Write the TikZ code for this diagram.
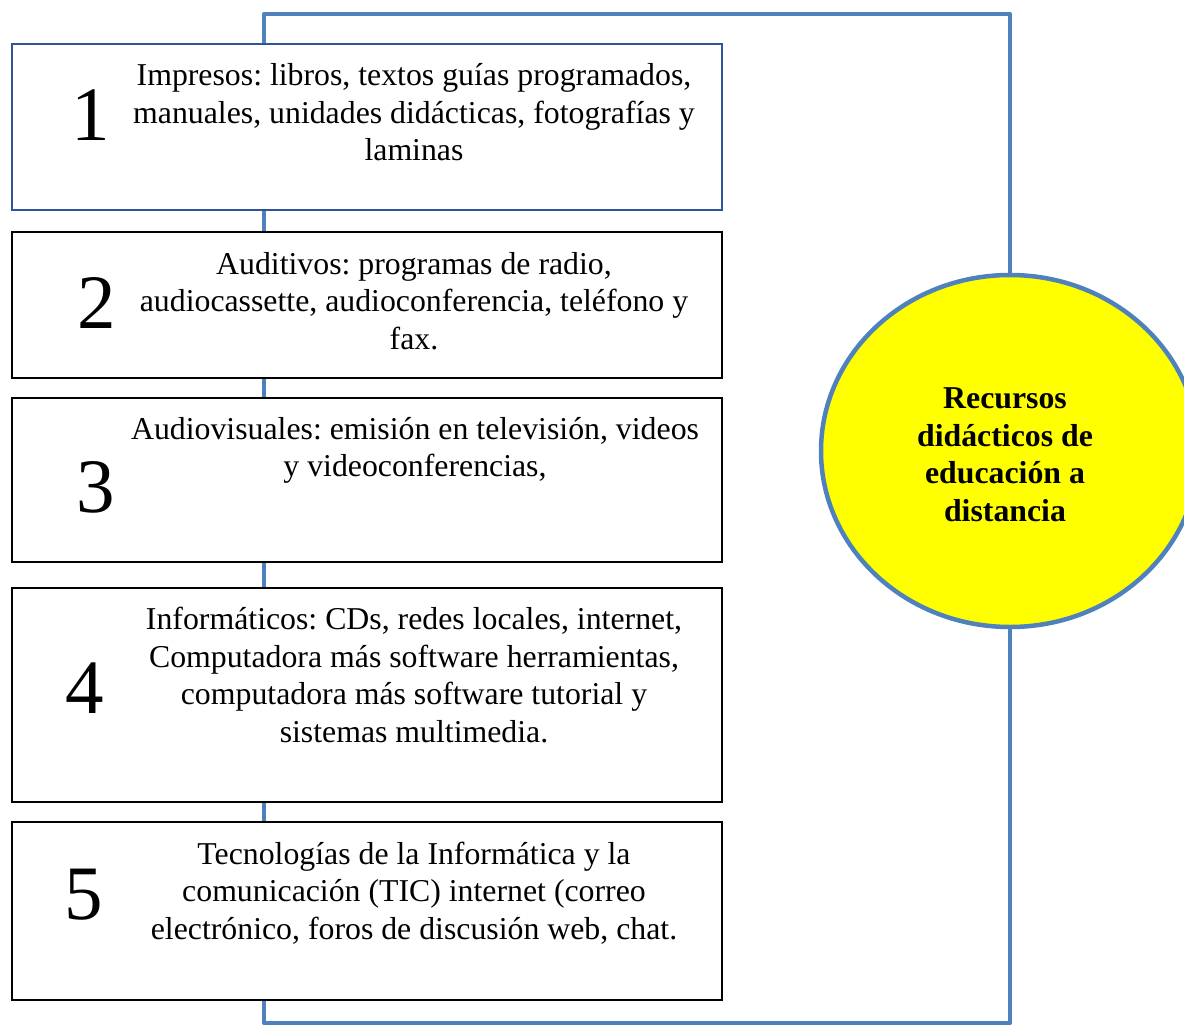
\documentclass[tikz,border=0pt]{standalone}
\usepackage{fontspec}
\setmainfont{Liberation Serif}
\usetikzlibrary{shapes.geometric}
\definecolor{frameblue}{HTML}{4F81BD}
\definecolor{boxblue}{HTML}{2F5597}
\definecolor{hubyellow}{HTML}{FFFF00}
\begin{document}
\frenchspacing
\begin{tikzpicture}[x=1pt,y=-1pt,
  frame/.style={draw=frameblue,line width=4.5pt},
  itembox/.style={draw=black,line width=2pt,fill=white,inner sep=0pt,minimum width=710pt},
  itemtext/.style={font=\fontsize{31.8}{37.5}\selectfont,align=center,inner sep=0pt},
  itemnum/.style={font=\fontsize{77}{77}\selectfont,inner sep=0pt},
  hub/.style={ellipse,draw=frameblue,line width=4.5pt,fill=hubyellow,minimum width=378pt,minimum height=352pt,inner sep=0pt},
  hubtext/.style={font=\fontsize{31.8}{37.5}\selectfont\bfseries,align=center,inner sep=0pt}]
\useasboundingbox (0,0) rectangle (1184,1026);
\begin{scope}
\clip (0,0) rectangle (1184,1026);
% frame
\coordinate (ftl) at (264,14);
\coordinate (ftr) at (1010,14);
\coordinate (fbr) at (1010,1023);
\coordinate (fbl) at (264,1023);
\draw[frame,line join=round] (ftl) -- (ftr) -- (fbr) -- (fbl) -- cycle;
% hub
\node[hub] (hubnode) at (1010,451) {};
\node[hubtext] (hubtxt) at (1005,454.5) {Recursos\\didácticos de\\educación a\\distancia};
% boxes
\node[itembox,draw=boxblue,minimum height=166pt] (b1) at (367,127) {};
\node[itembox,minimum height=146pt] (b2) at (367,305) {};
\node[itembox,minimum height=164pt] (b3) at (367,480) {};
\node[itembox,minimum height=214pt] (b4) at (367,695) {};
\node[itembox,minimum height=178pt] (b5) at (367,911) {};
% numbers
\node[itemnum] (n1) at (90.5,115) {1};
\node[itemnum] (n2) at (97,303) {2};
\node[itemnum] (n3) at (96,487) {3};
\node[itemnum] (n4) at (84.5,688) {4};
\node[itemnum] (n5) at (84,895) {5};
% texts
\node[itemtext] (t1) at (414,112.5) {Impresos: libros, textos guías programados,\\manuales, unidades didácticas, fotografías y\\laminas};
\node[itemtext] (t2) at (414,301) {Auditivos: programas de radio,\\audiocassette, audioconferencia, teléfono y\\fax.};
\node[itemtext] (t3) at (415,450.5) {Audiovisuales: emisión en televisión, videos\\y videoconferencias,};
\node[itemtext] (t4) at (414,675) {Informáticos: CDs, redes locales, internet,\\Computadora más software herramientas,\\computadora más software tutorial y\\sistemas multimedia.};
\node[itemtext] (t5) at (414,893) {Tecnologías de la Informática y la\\comunicación (TIC) internet (correo\\electrónico, foros de discusión web, chat.};
\end{scope}
\end{tikzpicture}
\end{document}
